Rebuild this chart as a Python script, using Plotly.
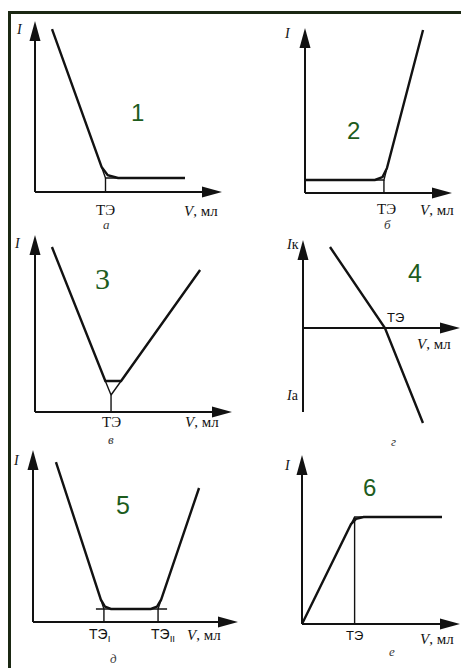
import plotly.graph_objects as go

W, H = 461, 668
INK = "#121212"
GREEN = "#1d5c1d"
FRAME = "#1b2813"
SERIF = "Liberation Serif, Times New Roman, serif"
SANS = "Liberation Sans, Arial, sans-serif"

# ---- conductometric / amperometric titration curves (V, mL vs. I) ----
# a) current falls, then stays constant after the end point
v1 = [0.91, 3.56, 3.89, 4.44, 8.02]
i1 = [9.53, 1.46, 0.98, 0.82, 0.82]
te1 = (3.77, 0.82)

# b) constant current, then rises after the end point
v2 = [0.0, 4.76, 5.27, 5.58, 8.03]
i2 = [0.79, 0.79, 0.97, 1.52, 9.88]
te2 = (5.37, 0.79)

# c) V-shaped curve
v3 = [0.86, 3.57, 4.37, 8.38]
i3 = [9.32, 1.75, 1.75, 8.02]
te3 = (3.86, 0.96)

# d) cathodic -> anodic current
v4 = [1.72, 3.82, 5.22, 7.64]
i4 = [4.6, 1.80, 0.0, -5.4]
te4 = (5.22, 0.0)

# e) two end points
v5 = [1.12, 3.31, 3.51, 3.80, 5.75, 6.05, 6.25, 8.10]
i5 = [9.30, 1.30, 0.895, 0.76, 0.76, 0.895, 1.30, 7.79]
te5 = [(3.46, 0.76), (6.10, 0.76)]
base5 = (3.07, 6.54)

# f) rises, then levels off
v6 = [0.0, 3.10, 3.42, 3.90, 8.86]
i6 = [0.0, 5.90, 6.22, 6.33, 6.33]
te6 = (3.33, 6.33)

# ---- panel geometry: origin (px), px per unit, axis extents, plot box (px) ----
panels = [
    dict(o=(35, 192), s=(18.7, 17.1), xt=10, yt=10, yb=0, box=(0, 0, 230, 224)),
    dict(o=(305, 193), s=(14.7, 16.5), xt=10, yt=10, yb=0, box=(232, 0, 461, 224)),
    dict(o=(35, 412), s=(19.7, 17.7), xt=10, yt=10, yb=0, box=(0, 224, 240, 445)),
    dict(o=(303, 328), s=(15.7, 17.6), xt=10, yt=5, yb=-4.77, box=(240, 224, 461, 445)),
    dict(o=(33, 622), s=(20.5, 17.2), xt=10, yt=10, yb=0, box=(0, 445, 245, 668)),
    dict(o=(302, 624), s=(15.8, 16.9), xt=10, yt=10, yb=0, box=(245, 445, 461, 668)),
]

fig = go.Figure()
layout = dict(
    width=W, height=H, margin=dict(l=0, r=0, t=0, b=0),
    paper_bgcolor="white", plot_bgcolor="rgba(0,0,0,0)", showlegend=False,
)
shapes, annotations = [], []

HEAD_L, HEAD_W = 20, 5.5  # arrow head length / half width, px


def add_line(k, xs, ys, width):
    fig.add_trace(go.Scatter(
        x=xs, y=ys, mode="lines", xaxis=f"x{k}", yaxis=f"y{k}",
        line=dict(color=INK, width=width),
        hoverinfo="skip", connectgaps=False,
    ))


for n, p in enumerate(panels, start=1):
    ox, oy = p["o"]
    sx, sy = p["s"]
    bx0, by0, bx1, by1 = p["box"]
    sfx = "" if n == 1 else str(n)
    layout[f"xaxis{sfx}"] = dict(
        domain=[bx0 / W, bx1 / W], range=[(bx0 - ox) / sx, (bx1 - ox) / sx],
        visible=False, fixedrange=True, anchor=f"y{sfx}")
    layout[f"yaxis{sfx}"] = dict(
        domain=[1 - by1 / H, 1 - by0 / H], range=[(oy - by1) / sy, (oy - by0) / sy],
        visible=False, fixedrange=True, anchor=f"x{sfx}")
    xr, yr = f"x{sfx}", f"y{sfx}"

    # axes with arrow heads
    hx, hy = HEAD_L / sx, HEAD_L / sy
    wx, wy = HEAD_W / sx, HEAD_W / sy
    add_line(n, [0, p["xt"] - hx * 0.6], [0, 0], 2)
    add_line(n, [0, 0], [p["yb"], p["yt"] - hy * 0.6], 2)
    shapes.append(dict(
        type="path", xref=xr, yref=yr, line=dict(width=0), fillcolor=INK,
        path=f"M{p['xt']},0 L{p['xt'] - hx},{wy} L{p['xt'] - hx},{-wy} Z"))
    shapes.append(dict(
        type="path", xref=xr, yref=yr, line=dict(width=0), fillcolor=INK,
        path=f"M0,{p['yt']} L{wx},{p['yt'] - hy} L{-wx},{p['yt'] - hy} Z"))

# titration curves (thick) and graphical construction lines (thin)
MAIN, AUX = 2.4, 1.4
add_line(1, v1, i1, MAIN)
add_line(1, [v1[1], te1[0], v1[3], None, te1[0], te1[0]],
         [i1[1], te1[1], i1[3], None, te1[1], 0], AUX)

add_line(2, v2, i2, MAIN)
add_line(2, [v2[1], te2[0], v2[3], None, te2[0], te2[0]],
         [i2[1], te2[1], i2[3], None, te2[1], 0], AUX)

add_line(3, v3, i3, MAIN)
add_line(3, [v3[1], te3[0], v3[2], None, te3[0], te3[0]],
         [i3[1], te3[1], i3[2], None, te3[1], 0], AUX)

add_line(4, v4, i4, MAIN)

add_line(5, v5, i5, MAIN)
add_line(5, [v5[1], te5[0][0], None, v5[6], te5[1][0], None, base5[0], base5[1],
             None, te5[0][0], te5[0][0], None, te5[1][0], te5[1][0]],
         [i5[1], te5[0][1], None, i5[6], te5[1][1], None, te5[0][1], te5[0][1],
          None, te5[0][1], 0, None, te5[1][1], 0], AUX)

add_line(6, v6, i6, MAIN)
add_line(6, [v6[1], te6[0], v6[3], None, te6[0], te6[0]],
         [i6[1], te6[1], i6[3], None, te6[1], 0], AUX)


def px_note(text, x, y, size, family=SERIF, color=INK):
    annotations.append(dict(
        text=text, x=x / W, y=1 - y / H, xref="paper", yref="paper",
        showarrow=False, xanchor="center", yanchor="middle",
        font=dict(family=family, size=size, color=color)))


def te_note(k, text, te, dx, dy, family, size):
    sfx = "" if k == 1 else str(k)
    annotations.append(dict(
        text=text, x=te[0], y=0, xref=f"x{sfx}", yref=f"y{sfx}",
        showarrow=False, xanchor="center", yanchor="middle",
        xshift=dx, yshift=dy, font=dict(family=family, size=size, color=INK)))


# end-point labels
te_note(1, "ТЭ", te1, 0, -18, SERIF, 15)
te_note(2, "ТЭ", te2, 3, -16, SERIF, 15)
te_note(3, "ТЭ", te3, 0, -10, SERIF, 15)
te_note(4, "ТЭ", te4, 11, 11, SANS, 13)
te_note(5, "ТЭ<sub>I</sub>", te5[0], -4, -13, SANS, 14)
te_note(5, "ТЭ<sub>II</sub>", te5[1], 5, -13, SANS, 14)
te_note(6, "ТЭ", te6, 0, -11, SANS, 13)

# axis titles
v_title = "<i>V</i>, мл"
for x, y in [(201, 211), (437, 210), (202, 422), (434, 344), (204, 635), (437, 639)]:
    px_note(v_title, x, y, 15)
for x, y in [(19, 30), (287, 33), (17, 243), (16, 460), (287, 465)]:
    px_note("<i>I</i>", x, y, 14)
px_note("<i>I</i>к", 292, 245, 14)
px_note("<i>I</i>а", 292, 395, 14)

# sub-figure letters
for t, x, y in [("а", 106, 224), ("б", 387, 225), ("в", 111, 439),
                ("г", 393, 441), ("д", 113, 658), ("е", 392, 651)]:
    px_note(f"<i>{t}</i>", x, y, 13, color="#3a3a3a")

# curve numbers
for t, x, y, fam, sz in [("1", 137, 112, SANS, 24), ("2", 353, 130, SANS, 24),
                         ("3", 102, 278, SERIF, 30), ("4", 415, 273, SANS, 25),
                         ("5", 123, 505, SANS, 25), ("6", 369, 487, SANS, 24)]:
    px_note(t, x, y, sz, family=fam, color=GREEN)

# frame (top and left edges)
shapes.append(dict(type="line", xref="paper", yref="paper",
                   x0=8 / W, x1=1, y0=1 - 12.5 / H, y1=1 - 12.5 / H,
                   line=dict(color=FRAME, width=3)))
shapes.append(dict(type="line", xref="paper", yref="paper",
                   x0=9.5 / W, x1=9.5 / W, y0=0, y1=1 - 11 / H,
                   line=dict(color=FRAME, width=3)))

layout["shapes"] = shapes
layout["annotations"] = annotations
fig.update_layout(**layout)
fig.write_html("out.html")
